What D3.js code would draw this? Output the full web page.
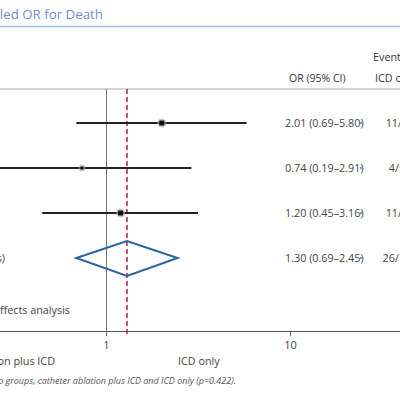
<!DOCTYPE html>
<html><head><meta charset="utf-8">
<script src="https://cdn.jsdelivr.net/npm/d3@7"></script>
<style>
body{margin:0;background:#fff;}
svg{display:block;font-family:"Open Sans",sans-serif;}
</style></head>
<body><div id="chart"></div>
<script>
const studies = ["Study A", "Study B", "Study C"];
const orValues = [2.01, 0.74, 1.20];
const ciLow = [0.69, 0.19, 0.45];
const ciHigh = [5.80, 2.91, 3.16];
const markerSize = [5, 3, 5];
const events = ["11/48", "4/57", "11/60"];
const pooled = {label: "Overall (3 studies)", or: 1.30, lo: 0.69, hi: 2.45, events: "26/165"};
const xTicks = [1, 10];
const fmt = d3.format(".2f");

const W = 400, H = 400;
const svg = d3.select("#chart").append("svg").attr("width", W).attr("height", H);

const x = d3.scaleLog().domain([1, 10]).range([106, 290]);
const rowY = d3.scalePoint().domain([...studies, "pooled"]).range([123, 258]);
const axisY = 331, topY = 89;
const fs = 10.8;

// title
svg.append("text").attr("x", 103).attr("y", 19).attr("text-anchor", "end")
  .attr("font-size", 13.3).attr("fill", "#6f8fc8").text("Pooled OR for Death");
svg.append("line").attr("x1", 0).attr("x2", W).attr("y1", 26.5).attr("y2", 26.5)
  .attr("stroke", "#a9c0e3").attr("stroke-width", 1.5);

// headers
svg.append("text").attr("x", 373).attr("y", 61).attr("font-size", fs).attr("fill", "#333").text("Events");
svg.append("text").attr("x", 289).attr("y", 82).attr("font-size", 10.5).attr("fill", "#333").text("OR (95% CI)");
svg.append("text").attr("x", 375).attr("y", 82).attr("font-size", fs).attr("fill", "#333").text("ICD only");
svg.append("line").attr("x1", 0).attr("x2", W).attr("y1", topY).attr("y2", topY)
  .attr("stroke", "#aaa").attr("stroke-width", 1);

// axis
const ax = svg.append("g").attr("transform", `translate(0,${axisY})`)
  .call(d3.axisBottom(x).tickValues(xTicks).tickFormat(d3.format("d")).tickSize(5).tickSizeOuter(0));
ax.select(".domain").remove();
ax.selectAll(".tick line").attr("stroke", "#666");
ax.selectAll(".tick text").attr("font-size", 11).attr("fill", "#444").attr("dy", "0.95em")
  .attr("font-family", "Open Sans, sans-serif");
svg.append("line").attr("x1", 0).attr("x2", W).attr("y1", axisY + 0.5).attr("y2", axisY + 0.5)
  .attr("stroke", "#555").attr("stroke-width", 1);

// line of no effect
svg.append("line").attr("x1", x(1) + 0.5).attr("x2", x(1) + 0.5).attr("y1", topY).attr("y2", axisY)
  .attr("stroke", "#777").attr("stroke-width", 1);
// pooled dashed line
svg.append("line").attr("x1", x(pooled.or)).attr("x2", x(pooled.or)).attr("y1", topY).attr("y2", axisY + 6)
  .attr("stroke", "#c8104a").attr("stroke-width", 1.5).attr("stroke-dasharray", "5,3");

// CIs
studies.forEach((s, i) => {
  const y = rowY(s);
  svg.append("line").attr("x1", x(ciLow[i])).attr("x2", x(ciHigh[i])).attr("y1", y).attr("y2", y)
    .attr("stroke", "#222").attr("stroke-width", 2);
  const m = markerSize[i];
  svg.append("circle").attr("cx", x(orValues[i])).attr("cy", y).attr("r", m / 2 + 2)
    .attr("fill", "#aaa").attr("opacity", 0.6);
  svg.append("rect").attr("x", x(orValues[i]) - m / 2).attr("y", y - m / 2)
    .attr("width", m).attr("height", m).attr("fill", "#111");
  svg.append("text").attr("x", 285).attr("y", y + 4).attr("font-size", fs).attr("fill", "#444")
    .text(`${fmt(orValues[i])} (${fmt(ciLow[i])}–${fmt(ciHigh[i])})`);
  svg.append("text").attr("x", 400).attr("y", y + 4).attr("text-anchor", "middle").attr("font-size", fs)
    .attr("fill", "#444").text(events[i]);
  svg.append("circle").attr("cx", 361).attr("cy", y).attr("r", 1.2).attr("fill", "#6a9ad0");
});

// pooled diamond
const py = rowY("pooled");
svg.append("path")
  .attr("d", `M${x(pooled.lo)},${py} L${x(pooled.or)},${py - 17} L${x(pooled.hi)},${py} L${x(pooled.or)},${py + 18} Z`)
  .attr("fill", "none").attr("stroke", "#2a64a0").attr("stroke-width", 2);
svg.append("text").attr("x", 5).attr("y", py + 4).attr("text-anchor", "end").attr("font-size", fs)
  .attr("fill", "#444").text(pooled.label);
svg.append("text").attr("x", 285).attr("y", py + 4).attr("font-size", fs).attr("fill", "#444")
  .text(`${fmt(pooled.or)} (${fmt(pooled.lo)}–${fmt(pooled.hi)})`);
svg.append("text").attr("x", 400).attr("y", py + 4).attr("text-anchor", "middle").attr("font-size", fs)
  .attr("fill", "#444").text(pooled.events);
svg.append("circle").attr("cx", 361).attr("cy", py).attr("r", 1.2).attr("fill", "#6a9ad0");

svg.append("text").attr("x", 70).attr("y", 314).attr("text-anchor", "end").attr("font-size", fs)
  .attr("fill", "#444").text("Fixed effects analysis");

// favours labels
svg.append("text").attr("x", 55).attr("y", 365).attr("text-anchor", "end").attr("font-size", fs)
  .attr("fill", "#444").text("Catheter ablation plus ICD");
svg.append("text").attr("x", 178).attr("y", 365).attr("font-size", fs).attr("fill", "#444").text("ICD only");

// footnote
svg.append("text").attr("x", 236).attr("y", 384).attr("text-anchor", "end").attr("font-size", 9)
  .attr("font-style", "italic").attr("fill", "#555")
  .text("No significant difference between the two groups, catheter ablation plus ICD and ICD only (p=0.422).");
</script></body></html>
